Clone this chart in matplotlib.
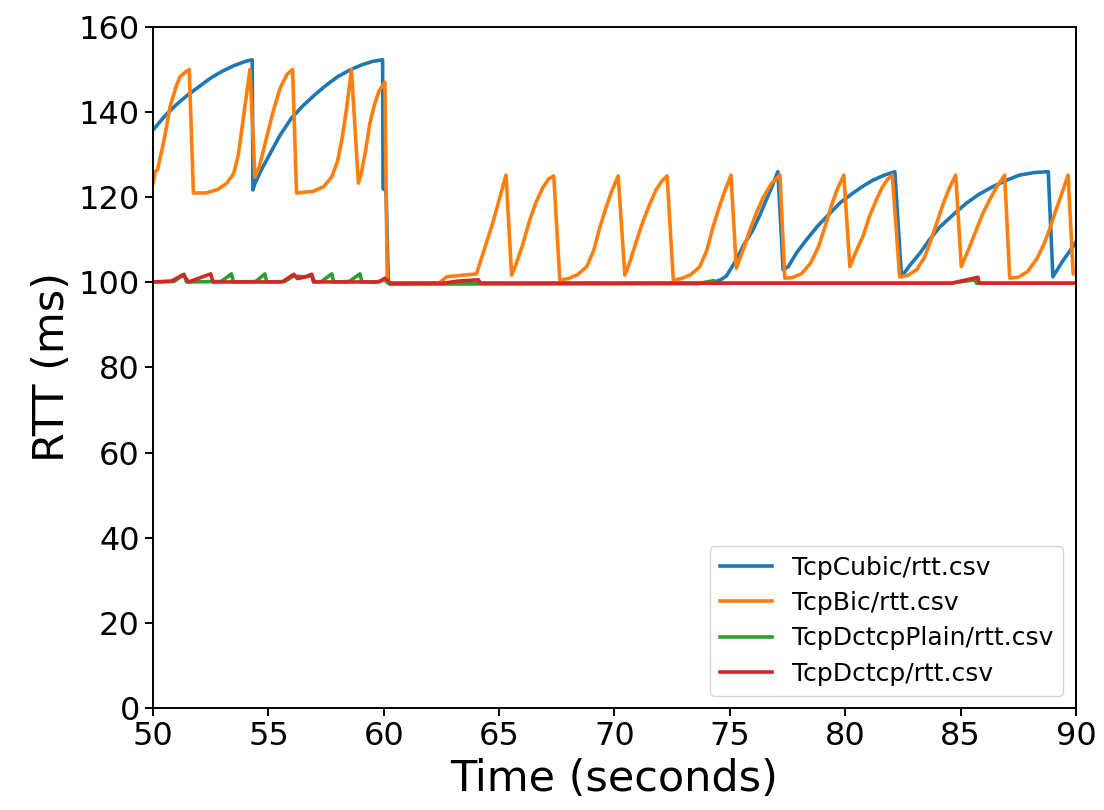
import matplotlib
matplotlib.use("Agg")
import matplotlib.pyplot as plt

# series (time in s, rtt in ms)
cubic_t = [50.0, 50.5, 51.0, 51.5, 52.0, 52.5, 53.0, 53.5, 54.0, 54.3, 54.33, 54.4,
           54.7, 55.0, 55.5, 56.0, 56.5, 57.0, 57.5, 58.0, 58.5, 59.0, 59.5, 59.95,
           59.97, 60.1, 60.2, 74.2, 74.6, 74.85, 75.28, 75.6, 76.0, 76.3, 76.58, 76.85,
           77.08, 77.31, 77.53, 77.9, 78.32, 78.8, 79.33, 79.8, 80.34, 80.8, 81.2, 81.7,
           82.15, 82.44, 82.8, 83.23, 83.65, 84.1, 84.7, 85.25, 85.8, 86.4, 87.0, 87.55,
           88.2, 88.8, 89.0, 89.4, 89.87, 90.0]
cubic_y = [135.8, 139.0, 141.7, 144.0, 146.0, 148.0, 149.6, 150.9, 151.9, 152.3, 121.7, 123.0,
           126.5, 129.5, 134.5, 138.6, 141.5, 144.0, 146.3, 148.3, 149.8, 151.0, 151.9, 152.3,
           122.0, 121.5, 99.8, 99.8, 100.6, 101.5, 105.3, 108.8, 112.3, 115.8, 119.4, 122.8,
           126.0, 102.9, 103.7, 107.0, 110.0, 113.2, 116.2, 118.8, 121.0, 122.7, 124.0, 125.2,
           126.0, 101.3, 104.0, 106.8, 110.0, 113.0, 116.0, 118.6, 120.7, 122.5, 124.0, 125.2,
           125.8, 126.0, 101.3, 104.8, 108.4, 109.5]

bic_t = [50.0, 50.1, 50.2, 50.5, 50.74, 51.0, 51.17, 51.4, 51.57, 51.75, 52.3, 52.8,
         53.2, 53.5, 53.7, 53.85, 54.0, 54.1, 54.2, 54.42, 54.6, 54.9, 55.2, 55.5,
         55.8, 56.05, 56.22, 56.95, 57.4, 57.75, 58.0, 58.2, 58.4, 58.6, 58.9, 59.04,
         59.2, 59.4, 59.6, 59.8, 60.05, 60.15, 60.3, 62.4, 62.72, 64.02, 64.7, 65.3,
         65.54, 65.75, 66.0, 66.33, 66.6, 66.9, 67.15, 67.37, 67.63, 68.0, 68.4, 68.8,
         69.1, 69.37, 69.6, 69.85, 70.16, 70.45, 70.65, 70.9, 71.2, 71.5, 71.8, 72.05,
         72.28, 72.55, 72.9, 73.3, 73.7, 74.0, 74.27, 74.5, 74.75, 75.05, 75.28, 75.6,
         75.87, 76.15, 76.45, 76.8, 77.17, 77.38, 77.7, 78.1, 78.5, 78.85, 79.15, 79.4,
         79.65, 79.94, 80.2, 80.45, 80.77, 81.05, 81.35, 81.6, 81.85, 82.04, 82.36, 82.7,
         83.1, 83.45, 83.75, 84.0, 84.25, 84.5, 84.79, 85.03, 85.35, 85.68, 85.95, 86.26,
         86.55, 86.91, 87.13, 87.5, 87.9, 88.3, 88.6, 88.86, 89.1, 89.35, 89.66, 89.88,
         90.0]
bic_y = [123.3, 126.0, 126.5, 134.0, 141.3, 146.0, 148.3, 149.4, 150.0, 121.0, 121.0, 121.8,
         123.3, 125.6, 130.0, 136.0, 142.0, 146.0, 150.0, 124.8, 127.0, 133.5, 140.0, 145.5,
         148.8, 150.0, 121.0, 121.4, 122.5, 124.8, 128.5, 134.0, 141.3, 150.0, 123.3, 126.0,
         130.5, 137.4, 141.8, 145.0, 147.0, 100.0, 99.6, 99.8, 101.3, 102.0, 113.5, 125.2,
         101.7, 104.5, 108.5, 114.7, 118.8, 122.3, 124.3, 125.0, 100.5, 100.9, 101.8, 103.7,
         107.5, 113.0, 117.0, 121.0, 125.0, 101.7, 104.5, 108.8, 113.8, 118.0, 121.7, 123.8,
         125.0, 100.5, 100.9, 101.8, 103.7, 107.5, 113.0, 117.0, 121.0, 125.2, 103.3, 108.0,
         112.3, 116.3, 120.0, 123.2, 125.2, 101.0, 101.1, 102.0, 104.5, 108.5, 113.5, 118.0,
         121.8, 125.2, 103.7, 107.0, 110.8, 115.5, 119.4, 122.3, 124.3, 125.2, 101.3, 101.6,
         103.0, 106.0, 110.5, 114.5, 118.5, 122.0, 125.2, 103.7, 107.8, 112.3, 116.0, 119.4,
         122.3, 125.2, 101.0, 101.2, 102.5, 105.5, 108.8, 112.5, 116.5, 120.3, 125.2, 102.0,
         102.0]

plain_t = [50.0, 50.9, 51.35, 51.45, 52.95, 53.4, 53.48, 54.45, 54.85, 54.93, 55.7, 56.1,
           56.6, 56.9, 57.0, 57.3, 57.75, 57.83, 58.5, 58.97, 59.05, 59.7, 60.0, 60.15,
           60.25, 73.6, 74.3, 74.4, 84.6, 85.6, 85.7, 90.0]
plain_y = [100.1, 100.2, 101.9, 100.1, 100.2, 102.0, 100.1, 100.2, 102.0, 100.1, 100.2, 101.5,
           101.3, 101.6, 100.1, 100.2, 102.0, 100.1, 100.2, 102.0, 100.1, 100.1, 100.6, 100.1,
           99.6, 99.7, 100.4, 99.8, 99.8, 100.6, 99.8, 99.8]

dctcp_t = [50.0, 50.8, 51.3, 51.5, 51.55, 52.5, 52.6, 55.6, 56.1, 56.25, 56.55, 56.88,
           56.95, 59.8, 60.05, 60.2, 60.3, 62.6, 63.2, 64.1, 64.2, 84.6, 85.75, 85.8, 90.0]
dctcp_y = [100.1, 100.3, 101.8, 100.4, 100.1, 102.0, 100.1, 100.1, 101.9, 100.9, 101.2, 101.9,
           100.1, 100.1, 101.0, 100.2, 99.8, 99.8, 100.3, 100.6, 99.8, 99.8, 101.2, 99.8, 99.8]

labels = ["TcpCubic/rtt.csv", "TcpBic/rtt.csv", "TcpDctcpPlain/rtt.csv", "TcpDctcp/rtt.csv"]

fig, ax = plt.subplots(figsize=(11.04, 8.1), dpi=100)
fig.subplots_adjust(left=0.1386, right=0.9746, top=0.9667, bottom=0.1259)

series = [(cubic_t, cubic_y), (bic_t, bic_y), (plain_t, plain_y), (dctcp_t, dctcp_y)]
for (t, y), lab in zip(series, labels):
    ax.plot(t, y, lw=2.6, label=lab)

ax.set_xlim(50, 90)
ax.set_ylim(0, 160)
ax.set_xlabel("Time (seconds)", fontsize=31)
ax.set_ylabel("RTT (ms)", fontsize=31)
ax.tick_params(labelsize=23, length=6, width=1.4)
for s in ax.spines.values():
    s.set_linewidth(1.4)
ax.legend(loc="lower right", fontsize=18, labelspacing=0.45, handlelength=2.1)

fig.savefig("out.png", dpi=100)
